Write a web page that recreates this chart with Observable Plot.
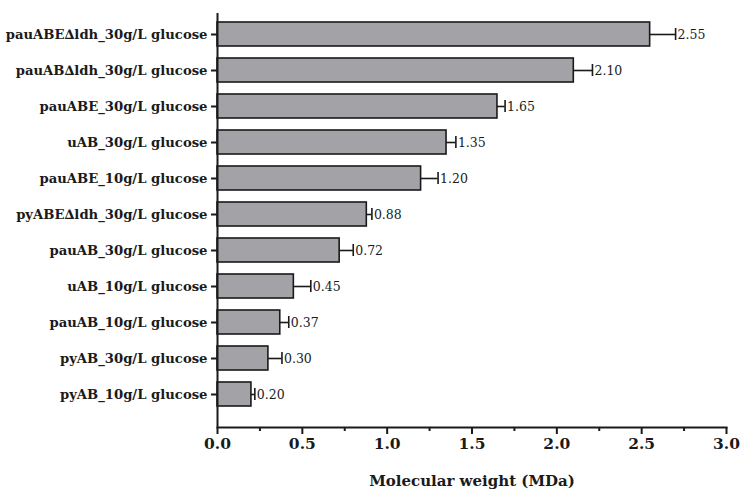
<!DOCTYPE html>
<html>
<head>
<meta charset="utf-8">
<script src="https://cdn.jsdelivr.net/npm/d3@7"></script>
<script src="https://cdn.jsdelivr.net/npm/@observablehq/plot@0.6"></script>
<style>
  html, body { margin: 0; padding: 0; background: #fff; }
  #chart svg { display: block; }
</style>
</head>
<body>
<div id="chart"></div>
<script>
// Strains / culture conditions, top to bottom
const strains = [
  "pauABE∆ldh_30g/L glucose",
  "pauAB∆ldh_30g/L glucose",
  "pauABE_30g/L glucose",
  "uAB_30g/L glucose",
  "pauABE_10g/L glucose",
  "pyABE∆ldh_30g/L glucose",
  "pauAB_30g/L glucose",
  "uAB_10g/L glucose",
  "pauAB_10g/L glucose",
  "pyAB_30g/L glucose",
  "pyAB_10g/L glucose"
];
// Mean molecular weight (MDa)
const weights = [2.55, 2.10, 1.65, 1.35, 1.20, 0.88, 0.72, 0.45, 0.37, 0.30, 0.20];
// Standard deviation (MDa)
const errors = [0.15, 0.11, 0.045, 0.055, 0.10, 0.03, 0.08, 0.10, 0.05, 0.08, 0.02];

// Axis ticks
const majorTicks = [0, 0.5, 1.0, 1.5, 2.0, 2.5, 3.0];
const minorTicks = [0.25, 0.75, 1.25, 1.75, 2.25, 2.75];
const xTitle = "Molecular weight (MDa)";

const rows = strains.map((name, i) => ({name, value: weights[i], err: errors[i]}));
const hi = d => d.value + d.err;

const ink = "#1a1a1a";

const chart = Plot.plot({
  width: 744,
  height: 492,
  marginTop: 13,
  marginBottom: 65,
  marginLeft: 217,
  marginRight: 18,
  style: {fontFamily: "'DejaVu Serif', serif", color: ink, background: "#fff"},
  x: {domain: [0, 3]},
  y: {domain: strains, paddingInner: 0.32, paddingOuter: 0.28, align: 0.31},
  marks: [
    Plot.barX(rows, {x: "value", y: "name", fill: "#a3a3a7", stroke: ink, strokeWidth: 1.6}),
    // error bars (upper half only)
    Plot.ruleY(rows, {x1: "value", x2: hi, y: "name", stroke: ink, strokeWidth: 1.6}),
    Plot.tickX(rows, {x: hi, y: "name", stroke: ink, strokeWidth: 1.6, inset: 6}),
    Plot.text(rows, {x: hi, y: "name", text: d => d.value.toFixed(2), textAnchor: "start", dx: 2, fontSize: 12.5, fill: ink}),
    // axes
    Plot.axisY({tickSize: 6, tickPadding: 4, fontSize: 13.2, fontWeight: "bold", strokeWidth: 2, label: null}),
    Plot.axisX(majorTicks, {tickSize: 7, tickPadding: 3, fontSize: 15.5, fontWeight: "bold", strokeWidth: 2, tickFormat: d3.format(".1f"), label: null}),
    Plot.axisX(minorTicks, {tickSize: 4, strokeWidth: 2, tickFormat: () => "", label: null}),
    Plot.ruleX([0], {stroke: ink, strokeWidth: 2}),
    Plot.frame({anchor: "bottom", stroke: ink, strokeWidth: 2}),
    Plot.text([xTitle], {text: d => d, frameAnchor: "bottom", lineAnchor: "bottom", dy: 58, fontSize: 15, fontWeight: "bold", fill: ink})
  ]
});

document.getElementById("chart").appendChild(chart);
</script>
</body>
</html>
